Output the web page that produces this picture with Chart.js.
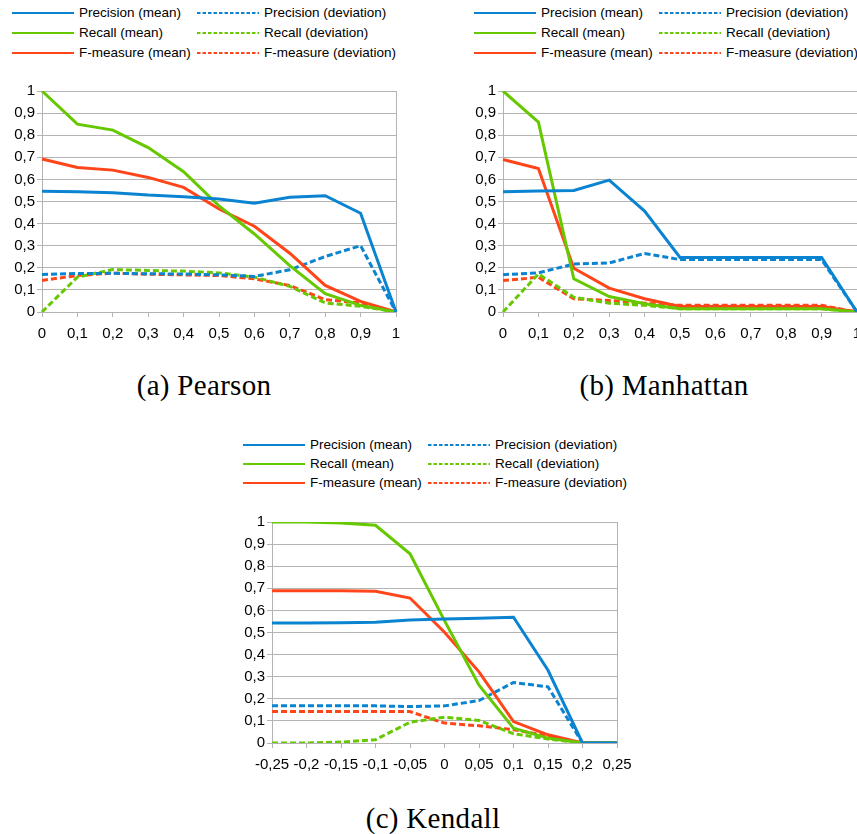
<!DOCTYPE html>
<html><head><meta charset="utf-8">
<script src="https://cdn.jsdelivr.net/npm/chart.js@4/dist/chart.umd.min.js"></script>
<style>
html,body{margin:0;padding:0;background:#fff;width:857px;height:834px;overflow:hidden;position:relative;}
canvas.c{position:absolute;}
.legline{position:absolute;}
.legtxt{position:absolute;font:13.5px "Liberation Sans",Arial,sans-serif;color:#000;white-space:nowrap;line-height:16px;}
.cap{position:absolute;font:29px "Liberation Serif",serif;color:#000;white-space:nowrap;line-height:30px;transform:translateX(-50%);letter-spacing:0.3px;}
</style></head><body>
<canvas id="ca" class="c"></canvas>
<canvas id="cb" class="c"></canvas>
<canvas id="cc" class="c"></canvas>
<div id="legends"></div>
<div class="cap" style="left:204px;top:370px;">(a) Pearson</div>
<div class="cap" style="left:664px;top:370px;">(b) Manhattan</div>
<div class="cap" style="left:433px;top:803px;">(c) Kendall</div>
<script>
// ---- data ----
const seriesNames = ['Precision (mean)','Precision (deviation)','Recall (mean)','Recall (deviation)','F-measure (mean)','F-measure (deviation)'];
const seriesColors = ['#0a84d0','#0a84d0','#66c800','#66c800','#ff4519','#ff4519'];
const seriesDashed = [false,true,false,true,false,true];
const yTickLabels = ['0','0,1','0,2','0,3','0,4','0,5','0,6','0,7','0,8','0,9','1'];

const pearsonX = ['0','0,1','0,2','0,3','0,4','0,5','0,6','0,7','0,8','0,9','1'];
const pearsonPrecMean = [0.546,0.544,0.540,0.529,0.522,0.511,0.492,0.519,0.526,0.447,0];
const pearsonPrecDev  = [0.170,0.174,0.175,0.173,0.172,0.168,0.161,0.191,0.251,0.300,0];
const pearsonRecMean  = [1.000,0.850,0.823,0.744,0.635,0.480,0.353,0.210,0.083,0.030,0];
const pearsonRecDev   = [0.000,0.158,0.192,0.188,0.185,0.177,0.158,0.116,0.041,0.026,0];
const pearsonFMean    = [0.692,0.654,0.642,0.609,0.564,0.466,0.388,0.266,0.120,0.048,0];
const pearsonFDev     = [0.143,0.165,0.176,0.171,0.168,0.165,0.150,0.120,0.056,0.041,0];

const manhattanX = ['0','0,1','0,2','0,3','0,4','0,5','0,6','0,7','0,8','0,9','1'];
const manhattanPrecMean = [0.544,0.547,0.550,0.597,0.457,0.247,0.247,0.247,0.247,0.247,0];
const manhattanPrecDev  = [0.169,0.177,0.217,0.222,0.265,0.237,0.237,0.237,0.237,0.237,0];
const manhattanRecMean  = [1.000,0.859,0.150,0.070,0.037,0.015,0.015,0.015,0.015,0.015,0];
const manhattanRecDev   = [0.000,0.172,0.067,0.040,0.030,0.015,0.015,0.015,0.015,0.015,0];
const manhattanFMean    = [0.690,0.649,0.198,0.108,0.060,0.025,0.025,0.025,0.025,0.025,0];
const manhattanFDev     = [0.142,0.157,0.060,0.052,0.040,0.030,0.030,0.030,0.030,0.030,0];

const kendallX = ['-0,25','-0,2','-0,15','-0,1','-0,05','0','0,05','0,1','0,15','0,2','0,25'];
const kendallPrecMean = [0.543,0.543,0.544,0.546,0.557,0.561,0.564,0.569,0.329,0,0];
const kendallPrecDev  = [0.168,0.168,0.168,0.168,0.165,0.168,0.192,0.274,0.254,0,0];
const kendallRecMean  = [1.000,1.000,0.996,0.985,0.856,0.554,0.262,0.067,0.022,0,0];
const kendallRecDev   = [0.000,0.000,0.004,0.015,0.094,0.117,0.102,0.042,0.018,0,0];
const kendallFMean    = [0.689,0.689,0.689,0.687,0.656,0.501,0.322,0.097,0.037,0,0];
const kendallFDev     = [0.142,0.142,0.142,0.142,0.142,0.090,0.078,0.060,0.033,0,0];

// ---- layout ----
const gridColor = '#b3b3b3';
const fontFam = '"Liberation Sans", Arial, sans-serif';

function makeChart(id, left, top, width, labels, series) {
  const cv = document.getElementById(id);
  cv.width = width; cv.height = 270;
  cv.style.left = left + 'px'; cv.style.top = top + 'px';
  cv.style.width = width + 'px'; cv.style.height = '270px';
  const last = labels.length - 1;
  const datasets = series.map((d, i) => ({
    label: seriesNames[i],
    data: d,
    borderColor: seriesColors[i],
    backgroundColor: seriesColors[i],
    borderWidth: 3,
    borderDash: seriesDashed[i] ? [6, 3] : [],
    pointRadius: 0,
    tension: 0,
    fill: false,
    order: seriesDashed[i] ? 1 : 0
  }));
  return new Chart(cv, {
    type: 'line',
    data: { labels: labels, datasets: datasets },
    options: {
      responsive: false, animation: false, devicePixelRatio: 1,
      layout: { padding: { top: 10, right: 24, left: 0, bottom: 0 } },
      plugins: { legend: { display: false }, tooltip: { enabled: false } },
      scales: {
        x: {
          type: 'category', offset: false,
          grid: { color: c => (c.index === last ? gridColor : 'rgba(0,0,0,0)'), tickColor: gridColor, tickLength: 5, lineWidth: 1 },
          border: { display: true, color: gridColor },
          ticks: { font: { family: fontFam, size: 15 }, color: '#000', maxRotation: 0, minRotation: 0, autoSkip: false, padding: 8 },
          afterFit: s => { s.height = 38; }
        },
        y: {
          min: 0, max: 1,
          grid: { color: gridColor, tickLength: 5, lineWidth: 1 },
          border: { display: true, color: gridColor },
          ticks: { stepSize: 0.1, font: { family: fontFam, size: 15 }, color: '#000', padding: 2,
                   callback: v => yTickLabels[Math.round(v * 10)] },
          afterFit: s => { s.width = 42; }
        }
      }
    }
  });
}

makeChart('ca', 0, 80, 420, pearsonX,
  [pearsonPrecMean, pearsonPrecDev, pearsonRecMean, pearsonRecDev, pearsonFMean, pearsonFDev]);
makeChart('cb', 461, 80, 420, manhattanX,
  [manhattanPrecMean, manhattanPrecDev, manhattanRecMean, manhattanRecDev, manhattanFMean, manhattanFDev]);
makeChart('cc', 230, 511, 411, kendallX,
  [kendallPrecMean, kendallPrecDev, kendallRecMean, kendallRecDev, kendallFMean, kendallFDev]);

// ---- legends (HTML text, SVG line samples) ----
function makeLegend(x0, y0, rowGap) {
  const host = document.getElementById('legends');
  seriesNames.forEach((name, i) => {
    const col = i % 2, row = Math.floor(i / 2);
    const lx = x0 + col * 185, ly = y0 + row * rowGap;
    const svgNS = 'http://www.w3.org/2000/svg';
    const svg = document.createElementNS(svgNS, 'svg');
    svg.setAttribute('width', '62'); svg.setAttribute('height', '6');
    svg.setAttribute('class', 'legline');
    svg.style.left = lx + 'px'; svg.style.top = (ly - 3) + 'px';
    const ln = document.createElementNS(svgNS, 'line');
    ln.setAttribute('x1', '0'); ln.setAttribute('x2', '62');
    ln.setAttribute('y1', '3'); ln.setAttribute('y2', '3');
    ln.setAttribute('stroke', seriesColors[i]); ln.setAttribute('stroke-width', '2');
    if (seriesDashed[i]) ln.setAttribute('stroke-dasharray', '3.5 2');
    svg.appendChild(ln);
    host.appendChild(svg);
    const t = document.createElement('div');
    t.className = 'legtxt';
    t.textContent = name;
    t.style.left = (lx + 67) + 'px'; t.style.top = (ly - 8) + 'px';
    host.appendChild(t);
  });
}
makeLegend(12, 13, 20);
makeLegend(474, 13, 20);
makeLegend(243, 445, 19.2);
</script>
</body></html>
